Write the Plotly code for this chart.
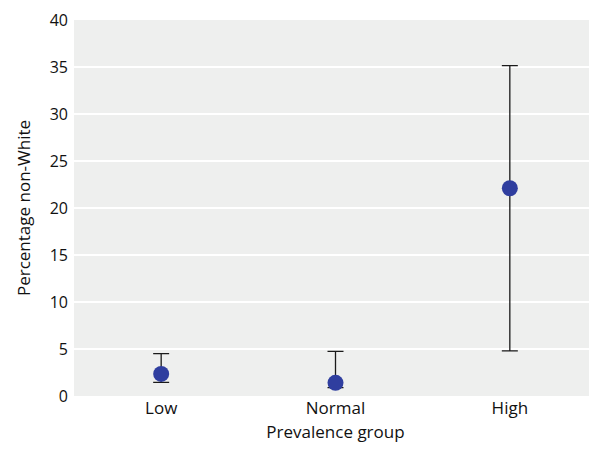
import plotly.graph_objects as go

groups = ["Low", "Normal", "High"]
pct = [2.35, 1.4, 22.1]
upper = [4.5, 4.75, 35.15]
lower = [1.45, 0.9, 4.8]

err_plus = [u - p for u, p in zip(upper, pct)]
err_minus = [p - l for p, l in zip(pct, lower)]

fig = go.Figure(go.Scatter(
    x=groups, y=pct, mode="markers",
    marker=dict(size=16, color="#2f3e9f"),
    error_y=dict(type="data", symmetric=False, array=err_plus, arrayminus=err_minus,
                 color="#1a1a1a", thickness=1.3, width=8),
))

fig.update_layout(
    width=589, height=441,
    margin=dict(l=66, r=0, t=12, b=53),
    paper_bgcolor="white", plot_bgcolor="#eeefee",
    font=dict(family="Open Sans, Noto Sans, sans-serif", size=16, color="#111111"),
    showlegend=False,
    xaxis=dict(range=[-0.5, 2.5], showgrid=False, zeroline=False, ticks="",
               title=dict(text="Prevalence group", standoff=8, font=dict(size=17)),
               tickfont=dict(size=17)),
    yaxis=dict(range=[0, 40], dtick=5, gridcolor="white", gridwidth=2, zeroline=False,
               ticks="", tickfont=dict(size=16), ticklabelstandoff=5,
               title=dict(text="Percentage non-White", standoff=14, font=dict(size=17))),
)

fig.write_html("out.html")
